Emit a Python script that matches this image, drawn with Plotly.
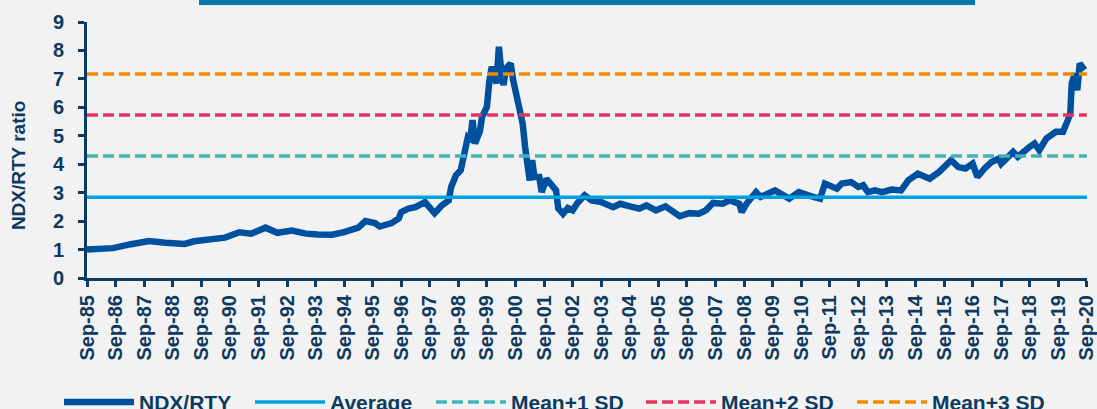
import plotly.graph_objects as go

dates = [
    "1985-09", "1986-02", "1986-08", "1987-03", "1987-11", "1988-06", "1989-02", "1989-06",
    "1990-01", "1990-07", "1991-01", "1991-06", "1991-12", "1992-05", "1992-11", "1993-05",
    "1993-10", "1994-04", "1994-09", "1995-03", "1995-06", "1995-10", "1995-12", "1996-05",
    "1996-08", "1996-09", "1996-12", "1997-03", "1997-07", "1997-10", "1997-11", "1998-02",
    "1998-05", "1998-06", "1998-08", "1998-10", "1998-12", "1999-01", "1999-02", "1999-03",
    "1999-04", "1999-06", "1999-07", "1999-09", "1999-10", "1999-11", "2000-01", "2000-02",
    "2000-03", "2000-04", "2000-05", "2000-07", "2000-08", "2000-09", "2000-11", "2000-12",
    "2001-01", "2001-03", "2001-04", "2001-05", "2001-07", "2001-08", "2001-10", "2001-12",
    "2002-02", "2002-03", "2002-05", "2002-07", "2002-09", "2002-11", "2003-02", "2003-05",
    "2003-09", "2004-02", "2004-05", "2004-09", "2005-01", "2005-04", "2005-08", "2005-12",
    "2006-03", "2006-06", "2006-10", "2007-02", "2007-05", "2007-08", "2007-12", "2008-03",
    "2008-07", "2008-08", "2008-10", "2009-02", "2009-04", "2009-07", "2009-10", "2010-04",
    "2010-08", "2011-02", "2011-05", "2011-07", "2011-12", "2012-02", "2012-06", "2012-09",
    "2012-11", "2013-01", "2013-04", "2013-07", "2013-11", "2014-03", "2014-06", "2014-10",
    "2015-01", "2015-03", "2015-07", "2015-10", "2015-12", "2016-03", "2016-06", "2016-09",
    "2016-11", "2017-02", "2017-05", "2017-08", "2017-09", "2018-02", "2018-04", "2018-09",
    "2018-11", "2019-01", "2019-04", "2019-08", "2019-11", "2020-01", "2020-02-01", "2020-02-20",
    "2020-04", "2020-05", "2020-06", "2020-08",
]
ratio = [
    1.00, 1.03, 1.05, 1.18, 1.30, 1.24, 1.20, 1.29,
    1.35, 1.42, 1.61, 1.56, 1.77, 1.59, 1.67, 1.56,
    1.53, 1.52, 1.61, 1.77, 2.00, 1.93, 1.81, 1.93,
    2.10, 2.32, 2.44, 2.49, 2.67, 2.40, 2.28, 2.55,
    2.73, 3.20, 3.61, 3.79, 4.61, 4.96, 4.90, 5.55,
    4.73, 5.14, 5.66, 6.02, 6.90, 7.43, 6.84, 8.13,
    7.31, 6.78, 7.37, 7.54, 6.96, 6.60, 5.90, 5.43,
    4.61, 3.43, 4.14, 3.55, 3.55, 3.02, 3.49, 3.32,
    3.08, 2.45, 2.26, 2.46, 2.38, 2.64, 2.91, 2.73,
    2.67, 2.49, 2.61, 2.52, 2.44, 2.55, 2.38, 2.52,
    2.32, 2.17, 2.28, 2.26, 2.38, 2.64, 2.61, 2.73,
    2.61, 2.32, 2.61, 3.02, 2.85, 2.97, 3.08, 2.79,
    3.02, 2.85, 2.79, 3.32, 3.14, 3.32, 3.37, 3.20,
    3.26, 3.02, 3.08, 3.02, 3.11, 3.08, 3.43, 3.67,
    3.58, 3.49, 3.73, 3.96, 4.14, 3.90, 3.85, 4.02,
    3.55, 3.85, 4.08, 4.20, 4.02, 4.43, 4.26, 4.61,
    4.73, 4.49, 4.90, 5.14, 5.14, 5.55, 5.78, 6.84,
    7.19, 6.60, 7.54, 7.31,
]

average = 2.84
std_dev = 1.445

tick_dates = [
    "1985-09-01", "1986-09-01", "1987-09-01", "1988-09-01", "1989-09-01", "1990-09-01",
    "1991-09-01", "1992-09-01", "1993-09-01", "1994-09-01", "1995-09-01", "1996-09-01",
    "1997-09-01", "1998-09-01", "1999-09-01", "2000-09-01", "2001-09-01", "2002-09-01",
    "2003-09-01", "2004-09-01", "2005-09-01", "2006-09-01", "2007-09-01", "2008-09-01",
    "2009-09-01", "2010-09-01", "2011-09-01", "2012-09-01", "2013-09-01", "2014-09-01",
    "2015-09-01", "2016-09-01", "2017-09-01", "2018-09-01", "2019-09-01", "2020-09-01",
]
tick_labels = [
    "Sep-85", "Sep-86", "Sep-87", "Sep-88", "Sep-89", "Sep-90", "Sep-91", "Sep-92",
    "Sep-93", "Sep-94", "Sep-95", "Sep-96", "Sep-97", "Sep-98", "Sep-99", "Sep-00",
    "Sep-01", "Sep-02", "Sep-03", "Sep-04", "Sep-05", "Sep-06", "Sep-07", "Sep-08",
    "Sep-09", "Sep-10", "Sep-11", "Sep-12", "Sep-13", "Sep-14", "Sep-15", "Sep-16",
    "Sep-17", "Sep-18", "Sep-19", "Sep-20",
]

x_start, x_end = "1985-09-01", "2020-09-01"
axis_end = "2020-09-02"
navy = "#0D3A5E"
font_family = "Liberation Sans, Arial, sans-serif"

# legend slot left edges (px) for each series
legend_slots = [59, 250, 431, 641, 852]

fig = go.Figure()
fig.add_trace(go.Scatter(
    x=dates, y=ratio, name="NDX/RTY", mode="lines",
    line=dict(color="#0050A0", width=6.5), legend="legend",
))

ref_lines = [
    ("Average", average, "#00A0E3", "solid"),
    ("Mean+1 SD", average + std_dev, "#40B5B8", "11px,5px"),
    ("Mean+2 SD", average + 2 * std_dev, "#E83560", "11px,5px"),
    ("Mean+3 SD", average + 3 * std_dev, "#F28A00", "11px,5px"),
]
for i, (name, val, color, dash) in enumerate(ref_lines):
    fig.add_trace(go.Scatter(
        x=[x_start, x_end], y=[val, val], name=name, mode="lines",
        line=dict(color=color, width=3.5, dash=dash), legend=f"legend{i + 2}",
    ))

fig.add_shape(type="rect", xref="paper", yref="paper",
              x0=0.112, x1=0.888, y0=1 + 17 / 256, y1=1 + 24 / 256,
              fillcolor="#0078AA", line=dict(width=0), layer="above")

fig.add_annotation(
    text="NDX/RTY ratio", textangle=-90, showarrow=False,
    xref="paper", yref="paper", x=-0.069, y=0.441, xanchor="center", yanchor="middle",
    font=dict(size=19, color=navy, weight="bold"),
)

legend_common = dict(
    orientation="h", xref="container", yref="container",
    xanchor="left", y=0.016, yanchor="middle",
    font=dict(size=21, color=navy, weight="bold"),
    itemwidth=70, bgcolor="rgba(0,0,0,0)",
)
legend_layout = {}
for i, px in enumerate(legend_slots):
    key = "legend" if i == 0 else f"legend{i + 1}"
    legend_layout[key] = dict(legend_common, x=px / 1097)

fig.update_layout(
    width=1097, height=409,
    margin=dict(l=87, r=10, t=22, b=131, autoexpand=False),
    paper_bgcolor="#F2F2F2", plot_bgcolor="#F2F2F2",
    font=dict(family=font_family, size=20, color=navy, weight="bold"),
    showlegend=True,
    xaxis=dict(
        type="date", range=[x_start, axis_end], automargin=False,
        tickmode="array", tickvals=tick_dates, ticktext=tick_labels,
        tickangle=-90, ticks="outside", ticklen=6, tickwidth=3, tickcolor=navy,
        showline=True, linecolor=navy, linewidth=3, showgrid=False, zeroline=False,
        tickfont=dict(size=20, color=navy, weight="bold"), ticklabeloverflow="allow",
    ),
    yaxis=dict(
        range=[0, 9], tickmode="linear", tick0=0, dtick=1, automargin=False,
        ticks="outside", ticklen=6, tickwidth=3, tickcolor=navy,
        showline=True, linecolor=navy, linewidth=3, showgrid=False, zeroline=False,
        tickfont=dict(size=20, color=navy, weight="bold"), ticklabelstandoff=10,
    ),
    **legend_layout,
)

fig.write_html("out.html")
